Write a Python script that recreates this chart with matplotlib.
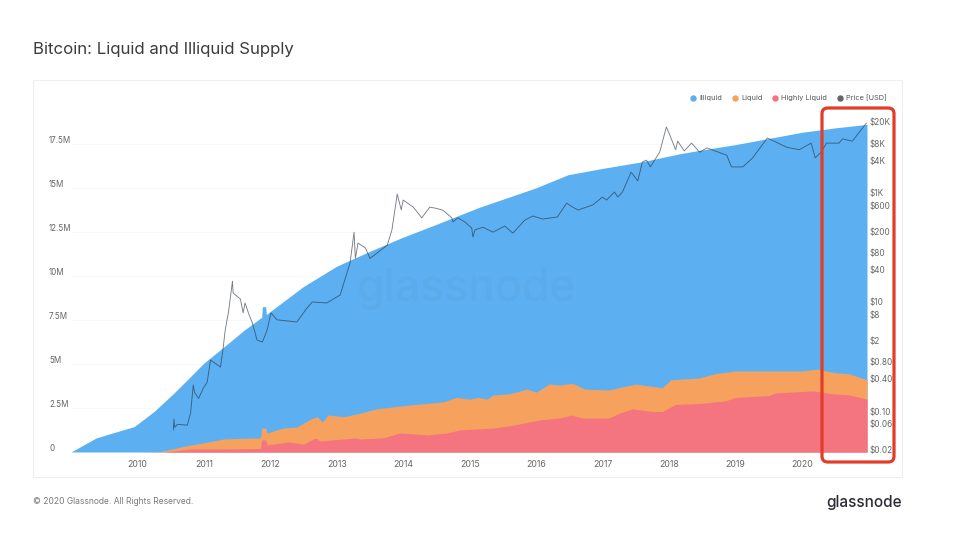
#!/usr/bin/env python3

import matplotlib
matplotlib.use('Agg')
import matplotlib.pyplot as plt
from matplotlib.lines import Line2D
from matplotlib.patches import FancyBboxPatch, Rectangle
from matplotlib.transforms import ScaledTranslation

plt.rcParams['font.family'] = ['Inter', 'DejaVu Sans']

# Top of each stacked band, millions of BTC
total_years = [2009.0, 2009.2, 2009.38, 2009.6, 2009.95, 2010.25, 2010.55, 2010.75, 2011.0,
               2011.28, 2011.6, 2011.87, 2011.88, 2011.93, 2011.94, 2012.0, 2012.5, 2013.0,
               2013.5, 2014.0, 2014.4, 2015.15, 2015.5, 2016.0, 2016.48, 2017.0, 2017.6,
               2018.16, 2018.5, 2019.0, 2019.5, 2020.0, 2020.5, 2020.98]
total_btc = [0, 0.42, 0.8, 1.05, 1.44, 2.3, 3.35, 4.1, 5.05,
             5.9, 6.9, 7.65, 8.25, 8.25, 7.8, 7.98, 9.4, 10.55,
             11.4, 12.2, 12.78, 13.9, 14.35, 15.0, 15.74, 16.1, 16.48,
             16.93, 17.15, 17.45, 17.8, 18.15, 18.4, 18.6]

liquid_years = [2010.05, 2010.35, 2010.8, 2011.0, 2011.3, 2011.6, 2011.85, 2011.87, 2011.93,
                2011.95, 2012.19, 2012.40, 2012.64, 2012.71, 2012.78, 2012.87, 2013.1, 2013.35,
                2013.6, 2014.1, 2014.6, 2014.8, 2015.0, 2015.13, 2015.26, 2015.35, 2015.6,
                2015.86, 2016.0, 2016.2, 2016.35, 2016.55, 2016.73, 2017.1, 2017.3, 2017.5,
                2017.9, 2018.03, 2018.45, 2018.7, 2019.0, 2019.5, 2020.0, 2020.23, 2020.5,
                2020.7, 2020.98]
liquid_btc = [0, 0.03, 0.4, 0.52, 0.74, 0.78, 0.8, 1.36, 1.36,
              1.08, 1.36, 1.42, 1.93, 2.0, 1.7, 2.1, 2.0, 2.2,
              2.45, 2.67, 2.84, 3.1, 3.0, 3.1, 3.0, 3.24, 3.3,
              3.57, 3.4, 3.86, 3.8, 3.9, 3.57, 3.52, 3.7, 3.85,
              3.65, 4.1, 4.2, 4.45, 4.6, 4.6, 4.6, 4.7, 4.5,
              4.45, 4.1]

highly_years = [2010.4, 2010.8, 2011.3, 2011.85, 2011.87, 2011.93, 2011.95, 2012.27, 2012.5,
                2012.68, 2012.75, 2013.28, 2013.35, 2013.7, 2013.95, 2014.36, 2014.66, 2014.85,
                2015.35, 2015.6, 2016.05, 2016.35, 2016.53, 2016.69, 2017.1, 2017.25,
                2017.45, 2017.75, 2017.9, 2018.1, 2018.45, 2018.85, 2019.0, 2019.5, 2019.6,
                2020.17, 2020.47, 2020.7, 2020.98]
highly_btc = [0, 0.17, 0.17, 0.2, 0.68, 0.68, 0.4, 0.57, 0.45,
              0.8, 0.62, 0.8, 0.74, 0.8, 1.08, 0.97, 1.08, 1.25,
              1.36, 1.48, 1.82, 1.93, 2.1, 1.93, 1.93, 2.2,
              2.45, 2.3, 2.3, 2.7, 2.75, 2.9, 3.1, 3.2, 3.35,
              3.47, 3.3, 3.25, 3.0]

# Price in USD, right hand log axis
price_years = [2010.54, 2010.55, 2010.56, 2010.60, 2010.75, 2010.80, 2010.84, 2010.86, 2010.92,
               2010.99, 2011.05, 2011.10, 2011.25, 2011.29, 2011.32, 2011.37, 2011.43, 2011.44,
               2011.55, 2011.59, 2011.62, 2011.67, 2011.73, 2011.80, 2011.88, 2011.95, 2012.01,
               2012.10, 2012.40, 2012.55, 2012.63, 2012.85, 2013.05, 2013.20, 2013.26, 2013.28,
               2013.32, 2013.43, 2013.50, 2013.76, 2013.83, 2013.91, 2013.97, 2014.0, 2014.15,
               2014.28, 2014.40, 2014.50, 2014.60, 2014.73, 2014.75, 2014.82, 2014.93, 2015.03,
               2015.05, 2015.08, 2015.2, 2015.35, 2015.53, 2015.65, 2015.83, 2015.95, 2016.1,
               2016.32, 2016.46, 2016.55, 2016.63, 2016.85, 2017.0, 2017.06, 2017.18, 2017.23,
               2017.3, 2017.43, 2017.53, 2017.6, 2017.66, 2017.72, 2017.86, 2017.96, 2018.0,
               2018.1, 2018.13, 2018.23, 2018.34, 2018.46, 2018.57, 2018.87, 2018.94, 2019.11,
               2019.26, 2019.48, 2019.77, 2019.96, 2020.14, 2020.20, 2020.29, 2020.37, 2020.56,
               2020.61, 2020.76, 2020.97]
price_usd = [0.045, 0.071, 0.05, 0.057, 0.055, 0.092, 0.30, 0.22, 0.17,
             0.26, 0.34, 0.86, 0.64, 1.43, 3.0, 6.5, 24, 14.6,
             11.3, 6.3, 9.6, 6.3, 4.1, 2.0, 1.84, 3.0, 6.3,
             4.7, 4.3, 7.7, 10, 9.6, 13.4, 52, 190, 63,
             120, 98, 63, 110, 210, 950, 490, 740, 550,
             350, 550, 520, 480, 350, 293, 350, 293, 227,
             155, 210, 235, 191, 247, 183, 317, 377, 332,
             362, 650, 550, 485, 600, 840, 740, 1040, 840,
             1040, 2400, 1660, 3700, 4000, 3000, 5600, 16200, 12600,
             6200, 8900, 5900, 8200, 5600, 6700, 4900, 3000, 3000,
             4400, 10200, 6900, 6200, 8200, 4400, 5600, 8200, 8200,
             9800, 8900, 19100]

year_ticks = list(range(2010, 2021))
supply_ticks = [0, 2.5, 5, 7.5, 10, 12.5, 15, 17.5]
supply_labels = ['0', '2.5M', '5M', '7.5M', '10M', '12.5M', '15M', '17.5M']
price_ticks = [0.02, 0.06, 0.10, 0.40, 0.80, 2, 6, 10, 40, 80, 200, 600, 1000, 4000, 8000, 20000]
price_labels = ['$0.02', '$0.06', '$0.10', '$0.40', '$0.80', '$2', '$8', '$10', '$40', '$80',
                '$200', '$600', '$1K', '$4K', '$8K', '$20K']

BLUE = '#5cb0f1'
ORANGE = '#f6a25e'
RED = '#f4747f'
TICK = '#666666'
W, H = 960, 552

fig = plt.figure(figsize=(9.6, 5.52), dpi=100, facecolor='white')

# panel frame behind the chart
fig.add_artist(Rectangle((33/W, 1-477/H), 869/W, 397/H, transform=fig.transFigure,
                         facecolor='none', edgecolor='#efefef', lw=0.8))

ax = fig.add_axes([71/W, 1-452/H, 796/W, 347/H])
ax.patch.set_alpha(0)
ax.fill_between(total_years, total_btc, color=BLUE, lw=0)
ax.fill_between(liquid_years, liquid_btc, color=ORANGE, lw=0)
ax.fill_between(highly_years, highly_btc, color=RED, lw=0)

ax.set_xlim(2009.0, 2020.98)
ax.set_ylim(0, 19.7)
ax.set_xticks(year_ticks)
ax.set_xticklabels([str(y) for y in year_ticks])
ax.set_yticks(supply_ticks)
ax.set_yticklabels(supply_labels, va='center', ha='left')
ax.tick_params(axis='x', length=0, pad=6, labelsize=6.3, labelcolor=TICK)
ax.tick_params(axis='y', length=0, pad=15.8, labelsize=5.8, labelcolor=TICK)
# the labels sit a little above their gridlines
lift = ScaledTranslation(0, 2.5/72, fig.dpi_scale_trans)
for label in ax.get_yticklabels():
    label.set_transform(label.get_transform() + lift)
ax.grid(axis='y', color='#f7f7f7', lw=0.6)
ax.set_axisbelow(True)
for s in ax.spines.values():
    s.set_visible(False)

ax.text(0.497, 0.47, 'glassnode', transform=ax.transAxes, ha='center', va='center',
        fontsize=32, fontweight='medium', color='#4f6f8f', alpha=0.07)

px = ax.twinx()
px.set_yscale('log')
px.set_ylim(0.0177, 41000)
px.plot(price_years, price_usd, color='#1f2a38', alpha=0.6, lw=0.65)
px.set_yticks(price_ticks)
px.set_yticklabels(price_labels)
px.minorticks_off()
px.tick_params(axis='y', length=0, pad=2, labelsize=5.9, labelcolor=TICK)
for s in px.spines.values():
    s.set_visible(False)

handles = [Line2D([], [], ls='', marker='o', ms=3.6, color=c)
           for c in (BLUE, ORANGE, RED, '#666666')]
fig.legend(handles, ['Illiquid', 'Liquid', 'Highly Liquid', 'Price [USD]'],
           loc='center right', bbox_to_anchor=(887/W, 1-98/H), ncols=4, frameon=False,
           fontsize=5.3, labelcolor='#555555', handletextpad=0.25, columnspacing=1.1,
           handlelength=1.2, borderpad=0, borderaxespad=0)

fig.text(33/W, 1-49/H, 'Bitcoin: Liquid and Illiquid Supply', fontsize=12.1,
         color='#3c3c3c', va='center')
fig.text(33/W, 1-501/H, '\u00a9 2020 Glassnode. All Rights Reserved.', fontsize=6.1,
         color='#7a7a7a', va='center')
fig.text(902/W, 1-503/H, 'glassnode', fontsize=11, fontweight='medium', color='#2b2b33',
         ha='right', va='center')

# red highlight around the last months
fig.add_artist(FancyBboxPatch((822/W, 1-462/H), 72/W, 354/H, transform=fig.transFigure,
                              boxstyle='round,pad=0,rounding_size=0.006', mutation_aspect=1.74,
                              facecolor='none', edgecolor='#e23d28', lw=2.3, zorder=5))

fig.savefig('out.png', dpi=100)
